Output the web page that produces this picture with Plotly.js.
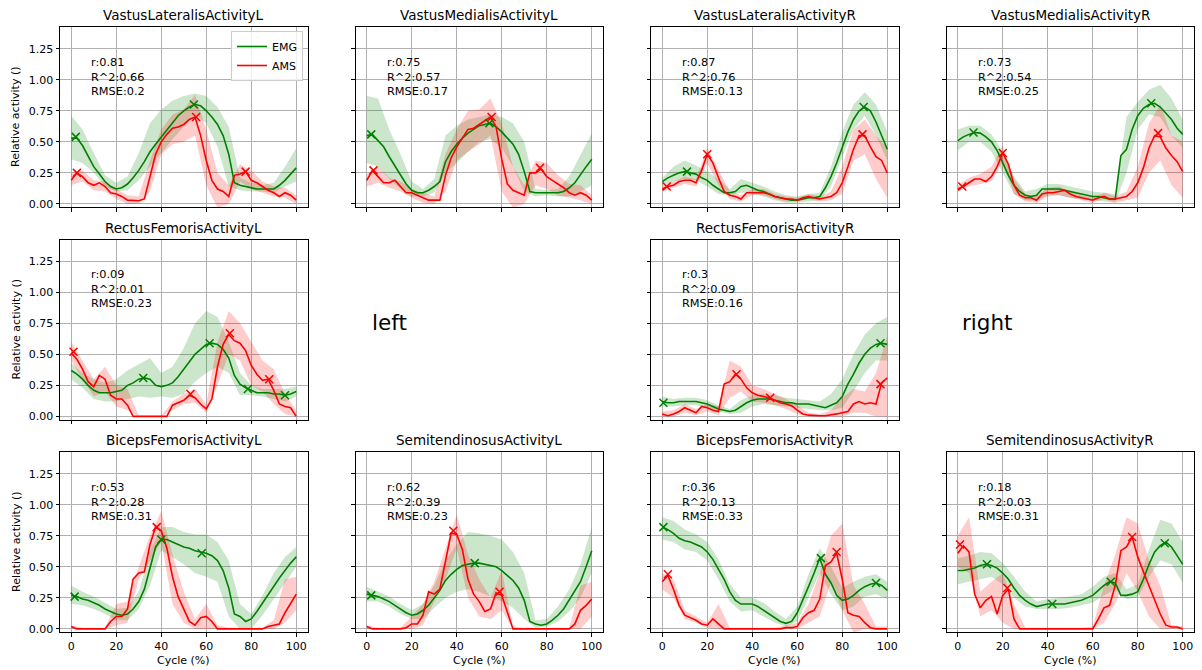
<!DOCTYPE html>
<html><head><meta charset="utf-8">
<script src="https://cdn.plot.ly/plotly-3.0.1.min.js"></script>
<style>html,body{margin:0;padding:0;background:#fff}#chart{width:1202px;height:670px}</style>
</head><body><div id="chart"></div>
<script>
// ---------- shared x values ----------
const cycle = [0,2.5,5,7.5,10,12.5,15,17.5,20,22.5,25,27.5,30,32.5,35,37.5,40,42.5,45,47.5,50,52.5,55,57.5,60,62.5,65,67.5,70,72.5,75,77.5,80,82.5,85,87.5,90,92.5,95,97.5,100];
const cycleBand = [0,5,10,15,20,25,30,35,40,45,50,55,60,65,70,75,80,85,90,95,100];
const xTicks = [0,20,40,60,80,100];
const yTicks = [0,0.25,0.5,0.75,1.0,1.25];
const yTickText = ['0.00','0.25','0.50','0.75','1.00','1.25'];

const titles = ['VastusLateralisActivityL','VastusMedialisActivityL','VastusLateralisActivityR','VastusMedialisActivityR',
  'RectusFemorisActivityL','RectusFemorisActivityR','BicepsFemorisActivityL','SemitendinosusActivityL','BicepsFemorisActivityR','SemitendinosusActivityR'];
const statR    = ['0.81','0.75','0.87','0.73','0.09','0.3','0.53','0.62','0.36','0.18'];
const statR2   = ['0.66','0.57','0.76','0.54','0.01','0.09','0.28','0.39','0.13','0.03'];
const statRMSE = ['0.2','0.17','0.13','0.25','0.23','0.16','0.31','0.23','0.33','0.31'];

// ---------- VastusLateralisActivityL ----------
const VLL_emg = [0.53,0.53,0.47,0.38,0.30,0.24,0.18,0.14,0.12,0.13,0.16,0.21,0.27,0.34,0.42,0.48,0.54,0.60,0.66,0.71,0.75,0.78,0.80,0.79,0.75,0.70,0.64,0.55,0.40,0.17,0.15,0.14,0.13,0.12,0.12,0.12,0.12,0.15,0.19,0.24,0.29];
const VLL_emgLo = [0.36,0.33,0.25,0.14,0.10,0.11,0.19,0.30,0.41,0.52,0.62,0.72,0.65,0.46,0.14,0.11,0.10,0.10,0.09,0.14,0.18];
const VLL_emgHi = [0.71,0.60,0.41,0.23,0.17,0.22,0.41,0.65,0.76,0.83,0.87,0.89,0.87,0.78,0.62,0.21,0.17,0.15,0.17,0.30,0.45];
const VLL_ams = [0.19,0.25,0.22,0.17,0.15,0.17,0.14,0.09,0.08,0.06,0.03,0.025,0.025,0.04,0.22,0.40,0.50,0.56,0.61,0.62,0.64,0.68,0.70,0.55,0.35,0.19,0.12,0.10,0.06,0.23,0.24,0.26,0.19,0.17,0.14,0.11,0.09,0.06,0.09,0.07,0.03];
const VLL_amsLo = [0.15,0.18,0.11,0.10,0.04,0.0,0.0,0.10,0.40,0.48,0.50,0.55,0.15,-0.03,0.0,0.18,0.12,0.09,0.06,0.05,0.0];
const VLL_amsHi = [0.25,0.27,0.19,0.18,0.12,0.07,0.06,0.35,0.60,0.72,0.76,0.88,0.60,0.25,0.15,0.32,0.27,0.18,0.14,0.13,0.07];
const VLL_emgPkX = [2,54.5], VLL_emgPkY = [0.54,0.80];
const VLL_amsPkX = [2.5,55.5,77.5], VLL_amsPkY = [0.25,0.70,0.26];

// ---------- VastusMedialisActivityL ----------
const VML_emg = [0.55,0.56,0.51,0.46,0.38,0.31,0.23,0.16,0.11,0.09,0.09,0.11,0.14,0.18,0.34,0.42,0.48,0.53,0.57,0.60,0.63,0.64,0.65,0.62,0.58,0.53,0.48,0.40,0.26,0.10,0.09,0.09,0.09,0.09,0.09,0.10,0.13,0.17,0.24,0.30,0.36];
const VML_emgLo = [0.33,0.30,0.20,0.12,0.06,0.06,0.09,0.25,0.33,0.42,0.50,0.52,0.45,0.30,0.10,0.06,0.07,0.06,0.06,0.10,0.15];
const VML_emgHi = [0.87,0.85,0.60,0.40,0.18,0.12,0.20,0.55,0.63,0.68,0.70,0.72,0.70,0.65,0.50,0.12,0.11,0.12,0.22,0.40,0.57];
const VML_ams = [0.19,0.27,0.22,0.17,0.17,0.19,0.14,0.09,0.09,0.07,0.05,0.03,0.03,0.03,0.23,0.37,0.46,0.53,0.60,0.61,0.64,0.67,0.70,0.62,0.36,0.16,0.11,0.09,0.07,0.25,0.25,0.28,0.22,0.19,0.16,0.13,0.09,0.07,0.09,0.07,0.03];
const VML_amsLo = [0.14,0.17,0.13,0.10,0.05,0.01,0.0,0.10,0.35,0.42,0.48,0.55,0.10,-0.03,0.0,0.15,0.12,0.07,0.05,0.03,0.0];
const VML_amsHi = [0.24,0.30,0.21,0.18,0.12,0.09,0.06,0.40,0.60,0.75,0.76,0.85,0.65,0.30,0.15,0.35,0.33,0.23,0.16,0.15,0.07];
const VML_emgPkX = [2,54.5], VML_emgPkY = [0.56,0.65];
const VML_amsPkX = [3,55.5,77], VML_amsPkY = [0.27,0.70,0.29];

// ---------- VastusLateralisActivityR ----------
const VLR_emg = [0.18,0.21,0.23,0.25,0.26,0.25,0.24,0.21,0.19,0.15,0.12,0.09,0.09,0.10,0.14,0.15,0.13,0.11,0.10,0.08,0.06,0.05,0.04,0.03,0.03,0.04,0.05,0.05,0.06,0.13,0.22,0.33,0.46,0.58,0.68,0.75,0.78,0.75,0.66,0.55,0.44];
const VLR_emgLo = [0.15,0.18,0.20,0.19,0.14,0.08,0.07,0.09,0.09,0.06,0.03,0.01,0.01,0.02,0.03,0.14,0.38,0.60,0.71,0.55,0.35];
const VLR_emgHi = [0.21,0.30,0.35,0.31,0.26,0.20,0.12,0.20,0.17,0.14,0.10,0.07,0.06,0.08,0.09,0.30,0.58,0.80,0.90,0.80,0.58];
const VLR_ams = [0.12,0.14,0.15,0.18,0.19,0.19,0.17,0.27,0.40,0.33,0.21,0.10,0.07,0.06,0.04,0.09,0.09,0.09,0.09,0.08,0.06,0.05,0.04,0.04,0.03,0.05,0.06,0.05,0.04,0.05,0.06,0.09,0.17,0.30,0.44,0.55,0.55,0.46,0.38,0.35,0.25];
const VLR_amsLo = [0.10,0.13,0.16,0.14,0.33,0.15,0.04,0.02,0.07,0.07,0.04,0.02,0.02,0.04,0.02,0.03,0.08,0.35,0.40,0.20,0.05];
const VLR_amsHi = [0.15,0.18,0.22,0.20,0.45,0.28,0.10,0.07,0.12,0.12,0.08,0.06,0.05,0.08,0.06,0.10,0.30,0.60,0.68,0.55,0.45];
const VLR_emgPkX = [11,89.5], VLR_emgPkY = [0.26,0.78];
const VLR_amsPkX = [2,20,89], VLR_amsPkY = [0.14,0.40,0.56];

// ---------- VastusMedialisActivityR ----------
const VMR_emg = [0.51,0.54,0.56,0.575,0.57,0.54,0.50,0.43,0.33,0.23,0.15,0.10,0.07,0.06,0.07,0.12,0.12,0.12,0.12,0.11,0.10,0.09,0.08,0.07,0.06,0.06,0.05,0.04,0.04,0.39,0.44,0.60,0.71,0.77,0.80,0.81,0.78,0.73,0.68,0.61,0.56];
const VMR_emgLo = [0.43,0.50,0.50,0.42,0.25,0.08,0.03,0.03,0.07,0.07,0.05,0.04,0.03,0.02,0.01,0.25,0.60,0.72,0.70,0.55,0.45];
const VMR_emgHi = [0.60,0.63,0.63,0.56,0.42,0.22,0.10,0.12,0.16,0.16,0.14,0.12,0.10,0.09,0.08,0.70,0.82,0.92,0.96,0.85,0.68];
const VMR_ams = [0.12,0.14,0.17,0.20,0.20,0.18,0.22,0.30,0.41,0.32,0.15,0.07,0.05,0.05,0.03,0.08,0.09,0.09,0.10,0.11,0.08,0.06,0.05,0.04,0.03,0.05,0.06,0.04,0.04,0.05,0.06,0.10,0.17,0.29,0.45,0.55,0.54,0.45,0.39,0.34,0.26];
const VMR_amsLo = [0.10,0.14,0.16,0.18,0.34,0.08,0.02,0.01,0.06,0.07,0.05,0.03,0.01,0.04,0.01,0.03,0.05,0.25,0.35,0.15,0.05];
const VMR_amsHi = [0.15,0.21,0.24,0.30,0.47,0.20,0.08,0.06,0.13,0.14,0.10,0.07,0.05,0.09,0.06,0.10,0.30,0.65,0.80,0.55,0.50];
const VMR_emgPkX = [7,86], VMR_emgPkY = [0.575,0.81];
const VMR_amsPkX = [2,20,89], VMR_amsPkY = [0.14,0.41,0.57];

// ---------- RectusFemorisActivityL ----------
const RFL_emg = [0.37,0.34,0.30,0.25,0.21,0.19,0.19,0.19,0.20,0.21,0.25,0.27,0.30,0.31,0.30,0.25,0.24,0.25,0.27,0.32,0.38,0.44,0.50,0.54,0.58,0.59,0.58,0.54,0.47,0.33,0.26,0.23,0.21,0.19,0.19,0.19,0.18,0.18,0.17,0.18,0.20];
const RFL_emgLo = [0.30,0.23,0.14,0.12,0.12,0.14,0.16,0.15,0.16,0.15,0.18,0.28,0.35,0.40,0.35,0.17,0.17,0.16,0.14,0.12,0.16];
const RFL_emgHi = [0.43,0.35,0.30,0.27,0.30,0.37,0.42,0.47,0.35,0.40,0.55,0.75,0.85,0.80,0.60,0.35,0.25,0.22,0.22,0.22,0.24];
const RFL_ams = [0.51,0.46,0.38,0.28,0.24,0.33,0.30,0.17,0.14,0.14,0.09,0.0,0.0,0.0,0.0,0.0,0.0,0.0,0.09,0.11,0.13,0.17,0.15,0.10,0.06,0.14,0.40,0.58,0.66,0.61,0.59,0.53,0.41,0.34,0.29,0.30,0.21,0.10,0.08,0.07,0.0];
const RFL_amsLo = [0.45,0.30,0.16,0.20,0.08,0.05,0.0,0.0,0.0,0.05,0.10,0.11,0.03,0.25,0.50,0.45,0.25,0.20,0.10,0.02,0.0];
const RFL_amsHi = [0.60,0.45,0.30,0.40,0.25,0.22,0.005,0.005,0.005,0.12,0.18,0.22,0.10,0.60,0.85,0.75,0.60,0.45,0.38,0.18,0.05];
const RFL_emgPkX = [32,61.5,78.5,95], RFL_emgPkY = [0.31,0.59,0.22,0.17];
const RFL_amsPkX = [1,53,70.5,88], RFL_amsPkY = [0.52,0.18,0.67,0.30];

// ---------- RectusFemorisActivityR ----------
const RFR_emg = [0.12,0.11,0.11,0.12,0.12,0.12,0.12,0.11,0.10,0.08,0.06,0.05,0.04,0.05,0.08,0.11,0.13,0.14,0.14,0.14,0.13,0.12,0.11,0.11,0.10,0.10,0.10,0.09,0.08,0.07,0.09,0.11,0.16,0.26,0.34,0.43,0.50,0.55,0.58,0.59,0.58];
const RFR_emgLo = [0.08,0.08,0.09,0.09,0.07,0.04,0.02,0.03,0.08,0.10,0.09,0.08,0.07,0.06,0.05,0.05,0.07,0.20,0.35,0.45,0.45];
const RFR_emgHi = [0.16,0.14,0.15,0.15,0.13,0.09,0.06,0.13,0.17,0.18,0.17,0.15,0.14,0.13,0.12,0.18,0.30,0.50,0.66,0.75,0.80];
const RFR_ams = [0.02,0.005,0.02,0.04,0.07,0.05,0.03,0.08,0.07,0.05,0.04,0.26,0.28,0.34,0.30,0.23,0.19,0.17,0.16,0.15,0.13,0.11,0.10,0.085,0.05,0.02,0.01,0.005,0.005,0.005,0.01,0.02,0.03,0.04,0.10,0.12,0.10,0.11,0.10,0.27,0.31];
const RFR_amsLo = [0.0,0.0,0.03,0.01,0.04,0.01,0.15,0.20,0.12,0.11,0.09,0.06,0.02,0.0,0.0,0.0,0.0,0.03,0.03,0.0,0.0];
const RFR_amsHi = [0.04,0.05,0.10,0.06,0.10,0.08,0.45,0.40,0.25,0.22,0.18,0.14,0.09,0.03,0.02,0.05,0.15,0.22,0.20,0.35,0.65];
const RFR_emgPkX = [0.5,97], RFR_emgPkY = [0.11,0.59];
const RFR_amsPkX = [33,48,97], RFR_amsPkY = [0.34,0.15,0.26];

// ---------- BicepsFemorisActivityL ----------
const BFL_emg = [0.27,0.26,0.24,0.23,0.21,0.19,0.16,0.14,0.12,0.11,0.12,0.16,0.22,0.32,0.50,0.66,0.72,0.72,0.70,0.68,0.66,0.65,0.63,0.62,0.61,0.59,0.55,0.47,0.33,0.12,0.10,0.06,0.08,0.14,0.21,0.28,0.35,0.41,0.47,0.53,0.58];
const BFL_emgLo = [0.20,0.19,0.16,0.12,0.07,0.07,0.16,0.35,0.63,0.58,0.52,0.45,0.42,0.38,0.10,0.0,0.0,0.11,0.25,0.37,0.50];
const BFL_emgHi = [0.35,0.30,0.26,0.21,0.16,0.17,0.30,0.63,0.82,0.82,0.78,0.76,0.76,0.70,0.55,0.20,0.12,0.27,0.45,0.58,0.66];
const BFL_ams = [0.02,0.0,0.0,0.0,0.0,0.0,0.0,0.06,0.10,0.10,0.16,0.40,0.45,0.46,0.68,0.82,0.79,0.65,0.42,0.26,0.16,0.06,0.03,0.09,0.10,0.06,0.0,0.0,0.0,0.0,0.0,0.0,0.0,0.0,0.0,0.02,0.03,0.04,0.13,0.20,0.28];
const BFL_amsLo = [0.0,0.0,0.0,0.0,0.03,0.05,0.40,0.55,0.70,0.20,0.05,0.0,0.0,0.0,0.0,0.0,0.0,0.0,0.0,0.05,0.15];
const BFL_amsHi = [0.03,0.01,0.01,0.01,0.20,0.22,0.50,0.75,0.95,0.60,0.30,0.08,0.20,0.03,0.01,0.01,0.01,0.01,0.07,0.40,0.42];
const BFL_emgPkX = [1.5,40,58], BFL_emgPkY = [0.26,0.72,0.61];
const BFL_amsPkX = [38], BFL_amsPkY = [0.82];

// ---------- SemitendinosusActivityL ----------
const STL_emg = [0.28,0.27,0.26,0.24,0.22,0.19,0.16,0.13,0.11,0.12,0.15,0.19,0.25,0.31,0.39,0.44,0.48,0.51,0.52,0.53,0.53,0.52,0.51,0.50,0.47,0.43,0.39,0.33,0.23,0.06,0.04,0.03,0.04,0.07,0.11,0.16,0.23,0.30,0.38,0.50,0.63];
const STL_emgLo = [0.22,0.22,0.18,0.12,0.08,0.08,0.17,0.25,0.30,0.32,0.30,0.26,0.22,0.17,0.08,0.01,0.02,0.06,0.14,0.25,0.45];
const STL_emgHi = [0.34,0.30,0.26,0.20,0.15,0.20,0.35,0.55,0.68,0.78,0.77,0.75,0.72,0.62,0.45,0.07,0.08,0.18,0.32,0.52,0.82];
const STL_ams = [0.02,0.0,0.0,0.0,0.0,0.0,0.0,0.01,0.04,0.04,0.11,0.30,0.28,0.32,0.55,0.77,0.76,0.64,0.40,0.28,0.22,0.14,0.16,0.29,0.27,0.13,0.0,0.0,0.0,0.0,0.0,0.0,0.0,0.0,0.0,0.0,0.0,0.04,0.15,0.19,0.24];
const STL_amsLo = [0.0,0.0,0.0,0.0,0.0,0.03,0.22,0.40,0.65,0.25,0.10,0.08,0.15,0.0,0.0,0.0,0.0,0.0,0.0,0.0,0.10];
const STL_amsHi = [0.03,0.01,0.01,0.01,0.10,0.20,0.38,0.65,0.92,0.60,0.40,0.25,0.47,0.02,0.01,0.01,0.01,0.01,0.01,0.35,0.38];
const STL_emgPkX = [2,48], STL_emgPkY = [0.27,0.53];
const STL_amsPkX = [38.5,59], STL_amsPkY = [0.79,0.30];

// ---------- BicepsFemorisActivityR ----------
const BFR_emg = [0.82,0.80,0.77,0.73,0.71,0.70,0.68,0.66,0.62,0.56,0.48,0.40,0.30,0.23,0.20,0.20,0.20,0.18,0.15,0.12,0.09,0.06,0.045,0.06,0.13,0.23,0.34,0.45,0.57,0.44,0.37,0.27,0.23,0.24,0.27,0.31,0.34,0.36,0.37,0.35,0.31];
const BFR_emgLo = [0.72,0.70,0.64,0.62,0.55,0.40,0.22,0.14,0.15,0.10,0.05,0.02,0.06,0.25,0.45,0.28,0.15,0.18,0.26,0.28,0.24];
const BFR_emgHi = [0.90,0.87,0.80,0.76,0.70,0.56,0.36,0.25,0.25,0.21,0.14,0.08,0.18,0.44,0.65,0.50,0.33,0.38,0.42,0.44,0.38];
const BFR_ams = [0.38,0.43,0.32,0.19,0.11,0.09,0.07,0.04,0.03,0.08,0.04,0.0,0.0,0.0,0.0,0.0,0.0,0.0,0.0,0.0,0.0,0.0,0.01,0.01,0.02,0.09,0.13,0.15,0.24,0.51,0.54,0.61,0.40,0.13,0.11,0.10,0.05,0.01,0.0,0.0,0.0];
const BFR_amsLo = [0.32,0.25,0.08,0.05,0.01,0.0,0.0,0.0,0.0,0.0,0.0,0.0,0.0,0.05,0.10,0.38,0.15,-0.03,0.0,0.0,0.0];
const BFR_amsHi = [0.45,0.40,0.15,0.10,0.05,0.20,0.01,0.01,0.01,0.01,0.01,0.03,0.05,0.20,0.45,0.75,0.85,0.35,0.20,0.02,0.02];
const BFR_emgPkX = [0.5,70.5,95], BFR_emgPkY = [0.82,0.57,0.37];
const BFR_amsPkX = [2.5,77.5], BFR_amsPkY = [0.44,0.62];

// ---------- SemitendinosusActivityR ----------
const STR_emg = [0.47,0.47,0.48,0.49,0.51,0.52,0.51,0.49,0.45,0.40,0.33,0.27,0.23,0.20,0.18,0.19,0.20,0.20,0.20,0.20,0.21,0.22,0.23,0.25,0.27,0.31,0.35,0.38,0.37,0.27,0.27,0.28,0.30,0.40,0.52,0.62,0.67,0.70,0.66,0.59,0.52];
const STR_emgLo = [0.36,0.38,0.40,0.42,0.36,0.25,0.18,0.16,0.16,0.16,0.17,0.19,0.21,0.27,0.32,0.24,0.25,0.42,0.55,0.52,0.37];
const STR_emgHi = [0.57,0.59,0.62,0.61,0.53,0.42,0.30,0.22,0.24,0.25,0.26,0.28,0.34,0.42,0.45,0.32,0.36,0.64,0.88,0.85,0.70];
const STR_ams = [0.61,0.67,0.62,0.28,0.17,0.23,0.26,0.12,0.27,0.32,0.08,0.0,0.0,0.0,0.0,0.0,0.0,0.0,0.0,0.0,0.0,0.0,0.0,0.0,0.0,0.08,0.17,0.19,0.35,0.63,0.66,0.74,0.58,0.46,0.35,0.24,0.12,0.03,0.015,0.015,0.0];
const STR_amsLo = [0.50,0.45,0.10,0.15,0.05,0.0,0.0,0.0,0.0,0.0,0.0,0.0,0.0,0.05,0.20,0.45,0.30,0.10,0.0,0.0,0.0];
const STR_amsHi = [0.75,0.90,0.30,0.38,0.45,0.20,0.01,0.01,0.01,0.01,0.01,0.01,0.02,0.35,0.60,0.90,0.85,0.55,0.35,0.03,0.02];
const STR_emgPkX = [13,42,68,92], STR_emgPkY = [0.52,0.20,0.38,0.69];
const STR_amsPkX = [1,22,77.5], STR_amsPkY = [0.68,0.33,0.74];

// ---------- panel table ----------
const panels = [
  {row:0,col:0,emg:VLL_emg,emgLo:VLL_emgLo,emgHi:VLL_emgHi,ams:VLL_ams,amsLo:VLL_amsLo,amsHi:VLL_amsHi,ePX:VLL_emgPkX,ePY:VLL_emgPkY,aPX:VLL_amsPkX,aPY:VLL_amsPkY},
  {row:0,col:1,emg:VML_emg,emgLo:VML_emgLo,emgHi:VML_emgHi,ams:VML_ams,amsLo:VML_amsLo,amsHi:VML_amsHi,ePX:VML_emgPkX,ePY:VML_emgPkY,aPX:VML_amsPkX,aPY:VML_amsPkY},
  {row:0,col:2,emg:VLR_emg,emgLo:VLR_emgLo,emgHi:VLR_emgHi,ams:VLR_ams,amsLo:VLR_amsLo,amsHi:VLR_amsHi,ePX:VLR_emgPkX,ePY:VLR_emgPkY,aPX:VLR_amsPkX,aPY:VLR_amsPkY},
  {row:0,col:3,emg:VMR_emg,emgLo:VMR_emgLo,emgHi:VMR_emgHi,ams:VMR_ams,amsLo:VMR_amsLo,amsHi:VMR_amsHi,ePX:VMR_emgPkX,ePY:VMR_emgPkY,aPX:VMR_amsPkX,aPY:VMR_amsPkY},
  {row:1,col:0,emg:RFL_emg,emgLo:RFL_emgLo,emgHi:RFL_emgHi,ams:RFL_ams,amsLo:RFL_amsLo,amsHi:RFL_amsHi,ePX:RFL_emgPkX,ePY:RFL_emgPkY,aPX:RFL_amsPkX,aPY:RFL_amsPkY},
  {row:1,col:2,emg:RFR_emg,emgLo:RFR_emgLo,emgHi:RFR_emgHi,ams:RFR_ams,amsLo:RFR_amsLo,amsHi:RFR_amsHi,ePX:RFR_emgPkX,ePY:RFR_emgPkY,aPX:RFR_amsPkX,aPY:RFR_amsPkY},
  {row:2,col:0,emg:BFL_emg,emgLo:BFL_emgLo,emgHi:BFL_emgHi,ams:BFL_ams,amsLo:BFL_amsLo,amsHi:BFL_amsHi,ePX:BFL_emgPkX,ePY:BFL_emgPkY,aPX:BFL_amsPkX,aPY:BFL_amsPkY},
  {row:2,col:1,emg:STL_emg,emgLo:STL_emgLo,emgHi:STL_emgHi,ams:STL_ams,amsLo:STL_amsLo,amsHi:STL_amsHi,ePX:STL_emgPkX,ePY:STL_emgPkY,aPX:STL_amsPkX,aPY:STL_amsPkY},
  {row:2,col:2,emg:BFR_emg,emgLo:BFR_emgLo,emgHi:BFR_emgHi,ams:BFR_ams,amsLo:BFR_amsLo,amsHi:BFR_amsHi,ePX:BFR_emgPkX,ePY:BFR_emgPkY,aPX:BFR_amsPkX,aPY:BFR_amsPkY},
  {row:2,col:3,emg:STR_emg,emgLo:STR_emgLo,emgHi:STR_emgHi,ams:STR_ams,amsLo:STR_amsLo,amsHi:STR_amsHi,ePX:STR_emgPkX,ePY:STR_emgPkY,aPX:STR_amsPkX,aPY:STR_amsPkY}
];

// ---------- layout geometry ----------
const W = 1202, H = 670;
const colLeft = [60, 355.5, 651, 946.5], plotW = 247.5;
const rowTop = [27, 239.5, 452], plotH = 180;
const FONT = 'DejaVu Sans';
const GREEN = '#008000', RED = '#ff0000';
const GREEN_FILL = 'rgba(0,128,0,0.2)', RED_FILL = 'rgba(255,0,0,0.2)';

const traces = [];
const annotations = [];
const layout = {
  width: W, height: H,
  margin: {l:0, r:0, t:0, b:0},
  paper_bgcolor: '#ffffff', plot_bgcolor: '#ffffff',
  font: {family: FONT, size: 11, color: '#000'},
  showlegend: true,
  legend: {x: 303/W, xanchor: 'right', y: 1 - 31/H, yanchor: 'top',
           bgcolor: 'rgba(255,255,255,0.8)', bordercolor: '#cccccc', borderwidth: 1,
           font: {family: FONT, size: 11, color: '#000'}, itemwidth: 30, tracegroupgap: 0},
  annotations: annotations
};

function polyX(xs){ return xs.concat(xs.slice().reverse()); }
function polyY(hi, lo){ return hi.concat(lo.slice().reverse()); }

panels.forEach((p, i) => {
  const n = i + 1;
  const xa = n === 1 ? 'x' : 'x' + n;
  const ya = n === 1 ? 'y' : 'y' + n;
  const left = colLeft[p.col], top = rowTop[p.row];
  const axCommon = {
    showline: true, mirror: true, linecolor: '#000', linewidth: 1,
    ticks: 'outside', ticklen: 3.5, tickwidth: 1, tickcolor: '#000',
    showgrid: true, gridcolor: '#b0b0b0', gridwidth: 1, zeroline: false,
    tickfont: {family: FONT, size: 11, color: '#000'}, fixedrange: true
  };
  layout[n === 1 ? 'xaxis' : 'xaxis' + n] = Object.assign({}, axCommon, {
    domain: [left / W, (left + plotW) / W], anchor: ya, range: [-5, 105],
    tickmode: 'array', tickvals: xTicks, ticktext: xTicks.map(String),
    showticklabels: p.row === 2
  });
  layout[n === 1 ? 'yaxis' : 'yaxis' + n] = Object.assign({}, axCommon, {
    domain: [1 - (top + plotH) / H, 1 - top / H], anchor: xa, range: [-0.025, 1.425],
    tickmode: 'array', tickvals: yTicks, ticktext: yTickText,
    showticklabels: p.col === 0
  });

  // bands
  traces.push({x: polyX(cycleBand), y: polyY(p.emgHi, p.emgLo), xaxis: xa, yaxis: ya,
    mode: 'lines', fill: 'toself', fillcolor: GREEN_FILL, line: {width: 0, color: GREEN_FILL},
    showlegend: false, hoverinfo: 'skip'});
  traces.push({x: polyX(cycleBand), y: polyY(p.amsHi, p.amsLo), xaxis: xa, yaxis: ya,
    mode: 'lines', fill: 'toself', fillcolor: RED_FILL, line: {width: 0, color: RED_FILL},
    showlegend: false, hoverinfo: 'skip'});
  // mean lines
  traces.push({x: cycle, y: p.emg, xaxis: xa, yaxis: ya, mode: 'lines', name: 'EMG',
    line: {color: GREEN, width: 1.6}, showlegend: n === 1, legendrank: 1});
  traces.push({x: cycle, y: p.ams, xaxis: xa, yaxis: ya, mode: 'lines', name: 'AMS',
    line: {color: RED, width: 1.6}, showlegend: n === 1, legendrank: 2});
  // peak markers
  traces.push({x: p.ePX, y: p.ePY, xaxis: xa, yaxis: ya, mode: 'markers', showlegend: false,
    marker: {symbol: 'x-thin', size: 8, color: GREEN, line: {color: GREEN, width: 1.5}}});
  traces.push({x: p.aPX, y: p.aPY, xaxis: xa, yaxis: ya, mode: 'markers', showlegend: false,
    marker: {symbol: 'x-thin', size: 8, color: RED, line: {color: RED, width: 1.5}}});

  // panel title
  annotations.push({xref: 'paper', yref: 'paper', x: (left + plotW / 2) / W, y: 1 - top / H,
    xanchor: 'center', yanchor: 'bottom', yshift: 2, showarrow: false, text: titles[i],
    font: {family: FONT, size: 13.5, color: '#000'}});
  // statistics text
  annotations.push({xref: xa, yref: ya, x: 8, y: 1.21, xanchor: 'left', yanchor: 'top', align: 'left',
    showarrow: false, text: 'r:' + statR[i] + '<br>R^2:' + statR2[i] + '<br>RMSE:' + statRMSE[i],
    font: {family: FONT, size: 11.3, color: '#000'}});
  // axis titles
  if (p.col === 0) {
    annotations.push({xref: 'paper', yref: 'paper', x: 16 / W, y: 1 - (top + plotH / 2) / H,
      xanchor: 'center', yanchor: 'middle', textangle: -90, showarrow: false,
      text: 'Relative activity ()', font: {family: FONT, size: 11, color: '#000'}});
  }
  if (p.row === 2) {
    annotations.push({xref: 'paper', yref: 'paper', x: (left + plotW / 2) / W, y: 1 - 652 / H,
      xanchor: 'center', yanchor: 'top', showarrow: false,
      text: 'Cycle (%)', font: {family: FONT, size: 11, color: '#000'}});
  }
});

// side labels in the empty middle-row slots
annotations.push({xref: 'paper', yref: 'paper', x: 370 / W, y: 1 - 322 / H, xanchor: 'left', yanchor: 'middle',
  showarrow: false, text: 'left', font: {family: FONT, size: 21.5, color: '#000'}});
annotations.push({xref: 'paper', yref: 'paper', x: 960 / W, y: 1 - 322 / H, xanchor: 'left', yanchor: 'middle',
  showarrow: false, text: 'right', font: {family: FONT, size: 21.5, color: '#000'}});

Plotly.newPlot('chart', traces, layout, {displayModeBar: false, staticPlot: true});
</script>
</body></html>
